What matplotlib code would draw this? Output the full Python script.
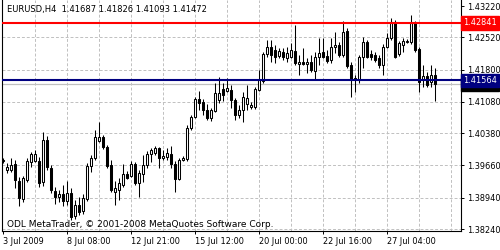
import matplotlib
matplotlib.use("Agg")
import matplotlib.pyplot as plt
import numpy as np

# ---- data ----
opens = [1.3976, 1.3956, 1.3956, 1.3969, 1.3931, 1.3891, 1.3933, 1.3974, 1.3976, 1.3976,
         1.3929, 1.4023, 1.3960, 1.3909, 1.3895, 1.3902, 1.3886, 1.3904, 1.3853, 1.3878,
         1.3864, 1.3891, 1.3965, 1.3983, 1.4021, 1.4029, 1.4007, 1.3967, 1.3907, 1.3911,
         1.3922, 1.3947, 1.3942, 1.3969, 1.3927, 1.3947, 1.3967, 1.3991, 1.3994, 1.4005,
         1.3983, 1.3985, 1.3991, 1.3969, 1.3936, 1.3978, 1.3980, 1.4050, 1.4074, 1.4114,
         1.4108, 1.4090, 1.4072, 1.4088, 1.4112, 1.4137, 1.4132, 1.4134, 1.4112, 1.4079,
         1.4090, 1.4103, 1.4096, 1.4096, 1.4134, 1.4155, 1.4215, 1.4230, 1.4224, 1.4210,
         1.4219, 1.4206, 1.4208, 1.4222, 1.4192, 1.4197, 1.4192, 1.4197, 1.4177, 1.4208,
         1.4219, 1.4210, 1.4201, 1.4230, 1.4235, 1.4213, 1.4266, 1.4190, 1.4157, 1.4157,
         1.4208, 1.4242, 1.4215, 1.4213, 1.4206, 1.4190, 1.4230, 1.4251, 1.4286, 1.4215,
         1.4235, 1.4242, 1.4242, 1.4284, 1.4226, 1.4157, 1.4166, 1.4152, 1.41687]
highs = [1.3983, 1.3971, 1.3983, 1.3978, 1.3940, 1.3942, 1.3983, 1.3996, 1.4000, 1.3985,
         1.4041, 1.4032, 1.3967, 1.3918, 1.3911, 1.3922, 1.3931, 1.3916, 1.3889, 1.3895,
         1.3902, 1.3971, 1.3989, 1.4045, 1.4063, 1.4034, 1.4012, 1.3978, 1.3931, 1.3938,
         1.3969, 1.3954, 1.3976, 1.3974, 1.3956, 1.3989, 1.3998, 1.4005, 1.4009, 1.4007,
         1.4000, 1.4005, 1.4009, 1.3976, 1.3983, 1.3987, 1.4056, 1.4079, 1.4119, 1.4132,
         1.4114, 1.4103, 1.4094, 1.4150, 1.4163, 1.4150, 1.4161, 1.4146, 1.4117, 1.4101,
         1.4130, 1.4146, 1.4108, 1.4141, 1.4179, 1.4219, 1.4246, 1.4246, 1.4235, 1.4228,
         1.4228, 1.4230, 1.4239, 1.4280, 1.4213, 1.4228, 1.4206, 1.4213, 1.4219, 1.4251,
         1.4251, 1.4224, 1.4251, 1.4264, 1.4242, 1.4289, 1.4273, 1.4197, 1.4168, 1.4213,
         1.4253, 1.4246, 1.4224, 1.4219, 1.4213, 1.4237, 1.4262, 1.4295, 1.4291, 1.4244,
         1.4251, 1.4248, 1.4302, 1.4289, 1.4230, 1.4190, 1.4175, 1.4190, 1.41826]
lows = [1.3971, 1.3949, 1.3951, 1.3916, 1.3875, 1.3884, 1.3929, 1.3962, 1.3974, 1.3918,
        1.3920, 1.3956, 1.3904, 1.3880, 1.3884, 1.3875, 1.3878, 1.3844, 1.3846, 1.3855,
        1.3858, 1.3886, 1.3951, 1.3978, 1.4018, 1.4003, 1.3960, 1.3907, 1.3878, 1.3889,
        1.3918, 1.3936, 1.3940, 1.3922, 1.3895, 1.3929, 1.3960, 1.3974, 1.3989, 1.3960,
        1.3978, 1.3978, 1.3960, 1.3907, 1.3933, 1.3976, 1.3976, 1.4045, 1.4072, 1.4090,
        1.4079, 1.4067, 1.4065, 1.4085, 1.4105, 1.4110, 1.4130, 1.4094, 1.4067, 1.4072,
        1.4063, 1.4090, 1.4092, 1.4092, 1.4132, 1.4150, 1.4208, 1.4197, 1.4195, 1.4206,
        1.4201, 1.4197, 1.4206, 1.4190, 1.4168, 1.4190, 1.4172, 1.4175, 1.4157, 1.4190,
        1.4206, 1.4195, 1.4195, 1.4217, 1.4208, 1.4208, 1.4184, 1.4119, 1.4130, 1.4150,
        1.4184, 1.4206, 1.4201, 1.4197, 1.4184, 1.4168, 1.4228, 1.4246, 1.4206, 1.4210,
        1.4219, 1.4239, 1.4237, 1.4219, 1.4130, 1.4141, 1.4141, 1.4141, 1.41093]
closes = [1.3978, 1.3962, 1.3967, 1.3933, 1.3893, 1.3938, 1.3976, 1.3991, 1.3991, 1.3927,
          1.4023, 1.3962, 1.3911, 1.3895, 1.3902, 1.3886, 1.3904, 1.3851, 1.3878, 1.3862,
          1.3893, 1.3965, 1.3983, 1.4029, 1.4029, 1.4007, 1.3965, 1.3911, 1.3916, 1.3927,
          1.3947, 1.3938, 1.3969, 1.3927, 1.3949, 1.3967, 1.3991, 1.4000, 1.4005, 1.3983,
          1.3987, 1.3994, 1.3969, 1.3936, 1.3978, 1.3983, 1.4050, 1.4074, 1.4114, 1.4105,
          1.4090, 1.4072, 1.4090, 1.4128, 1.4128, 1.4123, 1.4139, 1.4112, 1.4079, 1.4090,
          1.4119, 1.4117, 1.4101, 1.4137, 1.4157, 1.4215, 1.4230, 1.4213, 1.4208, 1.4222,
          1.4208, 1.4217, 1.4224, 1.4195, 1.4197, 1.4192, 1.4197, 1.4179, 1.4208, 1.4217,
          1.4208, 1.4199, 1.4230, 1.4235, 1.4213, 1.4264, 1.4188, 1.4157, 1.4161, 1.4208,
          1.4242, 1.4208, 1.4208, 1.4201, 1.4190, 1.4230, 1.4251, 1.4286, 1.4208, 1.4239,
          1.4244, 1.4244, 1.4284, 1.4224, 1.4152, 1.4166, 1.4146, 1.4168, 1.41472]

symbol_title = "EURUSD,H4  1.41687 1.41826 1.41093 1.41472"
copyright_text = "ODL MetaTrader, \u00a9 2001-2008 MetaQuotes Software Corp."
time_tick_bars = [0, 16, 32, 48, 64, 80, 96]
time_tick_labels = ["3 Jul 2009", "8 Jul 08:00", "12 Jul 21:00", "15 Jul 12:00",
                    "20 Jul 00:00", "22 Jul 16:00", "27 Jul 04:00"]
price_ticks = [1.43220, 1.42520, 1.41800, 1.41080, 1.40380, 1.39660, 1.38940, 1.38240]
resistance_level = 1.42841
support_level = 1.41564
bid_level = 1.41472

# ---- figure ----
plt.rcParams['font.family'] = ['DejaVu Sans']
fig = plt.figure(figsize=(5.0, 2.5), dpi=100, facecolor='white')
ax = fig.add_axes([0.004, 0.076, 0.918, 0.924])
ax.set_facecolor('white')

n = len(opens)
x = np.arange(n)
o = np.array(opens); h = np.array(highs); l = np.array(lows); c = np.array(closes)

ax.set_xlim(-0.325, 114.4)
ax.set_ylim(1.38196, 1.43354)

# grid
grid_kw = dict(color='#c0c0c0', linestyle=(0, (3, 2)), linewidth=0.7, zorder=0)
for gx in range(8, 115, 8):
    ax.axvline(gx, **grid_kw)
for gy in price_ticks[1:]:
    ax.axhline(gy, **grid_kw)

# bid line
ax.axhline(bid_level, color='#c0c0c0', linewidth=0.9, zorder=1)

# candles
ax.vlines(x, l, h, color='black', linewidth=0.75, zorder=2)
min_h = 0.00012
bottoms = np.minimum(o, c)
heights = np.maximum(np.abs(c - o), min_h)
colors = ['white' if cc >= oo else 'black' for oo, cc in zip(o, c)]
ax.bar(x, heights, bottom=bottoms, width=0.5, color=colors, edgecolor='black',
       linewidth=0.75, zorder=3)

# horizontal levels
ax.axhline(resistance_level, color='#ff0000', linewidth=1.5, zorder=4)
ax.axhline(support_level, color='#000080', linewidth=1.5, zorder=4)

# axes styling
for s in ax.spines.values():
    s.set_color('black'); s.set_linewidth(0.8)
ax.spines['top'].set_visible(False)
ax.yaxis.tick_right()
ax.set_yticks(price_ticks)
ax.set_yticklabels([f"{p:.5f}" for p in price_ticks])
ax.tick_params(axis='y', direction='out', length=2.5, width=0.7, pad=1.5,
               labelsize=5.9, colors='black')
ax.set_xticks(time_tick_bars)
ax.set_xticklabels(time_tick_labels)
ax.tick_params(axis='x', direction='out', length=2.5, width=0.7, pad=1.5,
               labelsize=5.9, colors='black')
for lab in ax.get_xticklabels():
    lab.set_horizontalalignment('left')

# right-side price boxes (bid label sits underneath the support label, as in MetaTrader)
def price_box(val, fc, tc='white'):
    ax.annotate(f"{val:.5f}", xy=(1.0, val), xycoords=('axes fraction', 'data'),
                xytext=(1.5, 0), textcoords='offset points', ha='left', va='center',
                fontsize=5.9, color=tc, zorder=10, annotation_clip=False,
                bbox=dict(boxstyle='square,pad=0.25', fc=fc, ec=fc))

price_box(bid_level, 'black')
price_box(support_level, '#000080')
price_box(resistance_level, '#ff0000')

# texts
ax.text(0.011, 0.957, symbol_title, transform=ax.transAxes, ha='left', va='center',
        fontsize=6.05, color='black', zorder=11)
ax.text(0.011, 0.028, copyright_text, transform=ax.transAxes, ha='left', va='center',
        fontsize=6.45, color='black', zorder=11)

fig.savefig('out.png', dpi=100, facecolor='white')
